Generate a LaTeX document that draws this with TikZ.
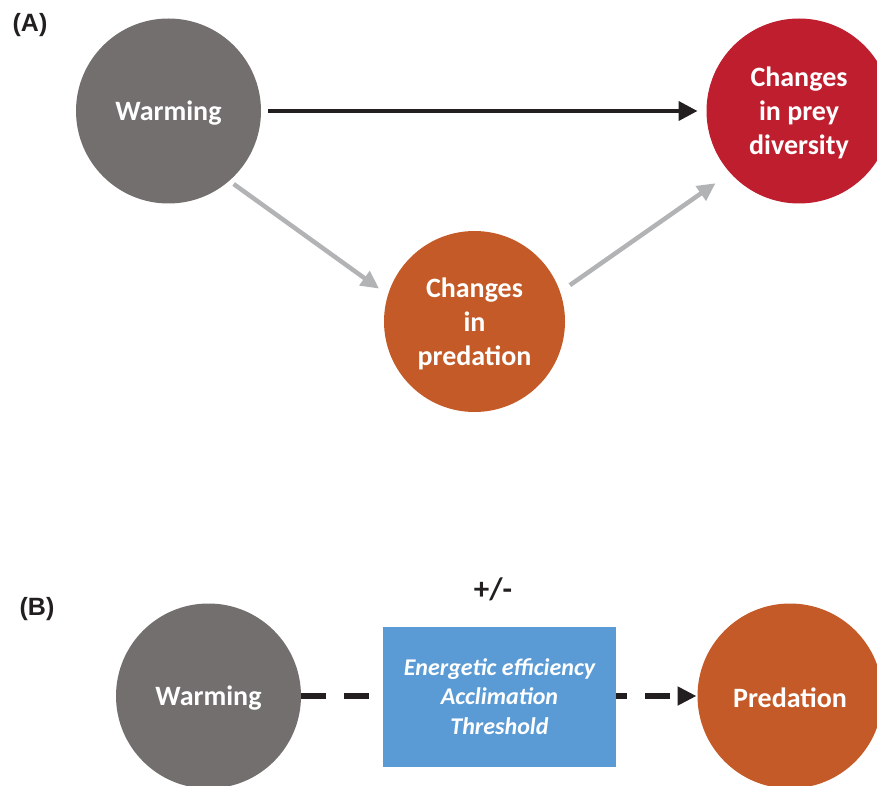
\documentclass[tikz,border=0pt]{standalone}
\usepackage{fontspec}
\setmainfont{Carlito}
\newfontfamily\labfont{Liberation Sans}
\usetikzlibrary{arrows.meta}
\definecolor{cgray}{HTML}{736F6E}
\definecolor{cred}{HTML}{BE1E2D}
\definecolor{corange}{HTML}{C45A27}
\definecolor{cblue}{HTML}{5B9BD5}
\definecolor{carrow}{HTML}{B2B3B5}
\definecolor{cblack}{HTML}{231F20}
\begin{document}
\begin{tikzpicture}[x=1pt,y=-1pt,
  bubble/.style={circle, minimum size=185pt, inner sep=0pt, outer sep=0pt, text=white,
    text depth=0pt, font=\fontsize{28}{34}\selectfont\bfseries, align=center},
  grayarrow/.style={line width=4.5pt, carrow, -{Triangle[length=18pt,width=17pt]}},
  panel/.style={font=\labfont\fontsize{25}{28}\selectfont\bfseries, text=cblack, inner sep=0pt}]
\useasboundingbox (0,0) rectangle (877,786);
\clip (0,0) rectangle (877,786);
% panel A
\node[bubble, fill=cgray] (wa) at (168.5,111) {Warming};
\node[bubble, fill=cred] (pd) at (799,111) {Changes\\in prey\\diversity};
\node[bubble, fill=corange, minimum size=181pt] (cp) at (474.5,321.5) {Changes\\in\\predation};
\draw[line width=4pt, cblack, -{Triangle[length=19pt,width=19pt]}, shorten <=7pt, shorten >=9pt] (wa.east) -- (pd.west);
\draw[grayarrow, shorten <=5.5pt, shorten >=11pt] (wa.-49) -- (cp.163);
\draw[grayarrow, shorten <=12pt, shorten >=18pt] (cp.19.5) -- (pd.-138);
\node[panel] (la) at (30,25) {(A)};
% panel B
\node[bubble, fill=cgray] (wb) at (208.5,696) {Warming};
\node[bubble, fill=corange, text height=23pt] (pr) at (790,696) {Predation};
\draw[line width=6pt, cblack, dash pattern=on 25pt off 18pt, -{Triangle[length=19pt,width=18pt]}, shorten >=1pt] (wb.east) -- (pr.west);
\node[fill=cblue, minimum width=233pt, minimum height=140pt, inner sep=0pt, text=white,
  font=\fontsize{24}{29.5}\selectfont\bfseries\itshape, align=center] (bx) at (499.5,696.5)
  {Energetic efficiency\\Acclimation\\Threshold};
\node[font=\fontsize{31}{34}\selectfont\bfseries, text=cblack, inner sep=0pt] (pm) at (493,589) {+/-};
\node[panel] (lb) at (37,609) {(B)};
\end{tikzpicture}
\end{document}
